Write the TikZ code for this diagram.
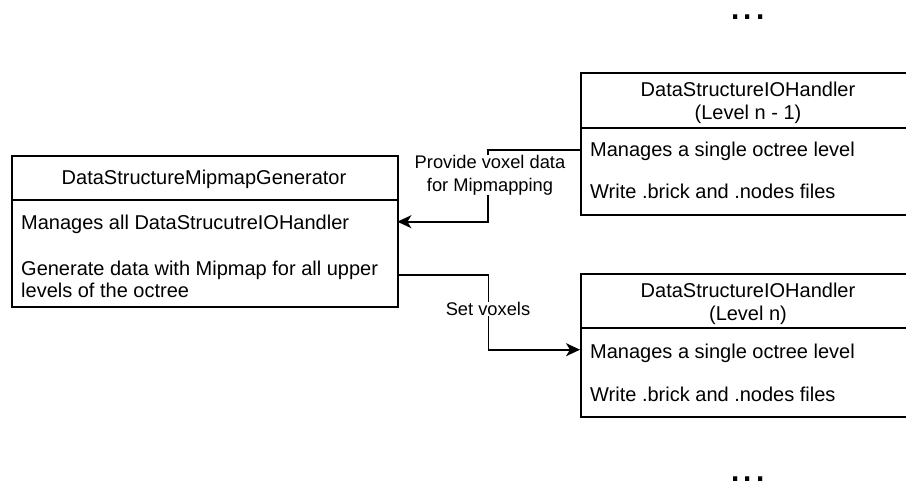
\documentclass[tikz,border=0pt]{standalone}
\usepackage{fontspec}
\setmainfont{Liberation Sans}
\usetikzlibrary{arrows.meta}
\begin{document}
\begin{tikzpicture}[x=1pt,y=-1pt,
 box/.style={draw, line width=1.6pt, rectangle, inner sep=0pt, anchor=north west},
 rowbox/.style={rectangle, inner sep=0pt, anchor=north west},
 divider/.style={line width=1.6pt},
 txt/.style={inner sep=0pt, anchor=base west, font=\fontsize{20}{23}\selectfont},
 head/.style={inner sep=0pt, anchor=base, font=\fontsize{20}{23}\selectfont},
 lbl/.style={inner sep=0pt, fill=white, align=center, font=\fontsize{18.3}{23}\selectfont},
 conn/.style={line width=1.6pt, -{Stealth[length=14pt,width=13pt,inset=4pt]}},
 dotstxt/.style={inner sep=0pt, anchor=base, font=\fontsize{44}{50}\selectfont}]

\useasboundingbox (0,0) rectangle (906,483);

% left box
\node[box, minimum width=386pt, minimum height=151pt] (gen) at (11,155) {};
\node[rowbox, minimum width=386pt, minimum height=43pt] (genA) at (11,200) {};
\node[rowbox, minimum width=386pt, minimum height=63pt] (genB) at (11,243) {};
\draw[divider] (genA.north west) -- (genA.north east);
\node[head] (genT) at (204,184.3) {DataStructureMipmapGenerator};
\node[txt] (genA1) at (21,229.3) {Manages all DataStrucutreIOHandler};
\node[txt] (genB1) at (21,275) {Generate data with Mipmap for all upper};
\node[txt] (genB2) at (21,297) {levels of the octree};

% top right box
\node[box, minimum width=336pt, minimum height=142pt] (io1) at (580,72) {};
\node[rowbox, minimum width=336pt, minimum height=43pt] (io1A) at (580,128) {};
\draw[divider] (io1A.north west) -- (io1A.north east);
\node[head] (io1T1) at (748,96) {DataStructureIOHandler};
\node[head] (io1T2) at (748,119) {(Level n - 1)};
\node[txt] (io1A1) at (590,156.7) {Manages a single octree level};
\node[txt] (io1B1) at (590,198.5) {Write .brick and .nodes files};

% bottom right box
\node[box, minimum width=336pt, minimum height=143pt] (io0) at (580,273) {};
\node[rowbox, minimum width=336pt, minimum height=43pt] (io0A) at (580,328) {};
\draw[divider] (io0A.north west) -- (io0A.north east);
\node[head] (io0T1) at (748,297) {DataStructureIOHandler};
\node[head] (io0T2) at (748,320) {(Level n)};
\node[txt] (io0A1) at (590,358) {Manages a single octree level};
\node[txt] (io0B1) at (590,401.5) {Write .brick and .nodes files};

% connectors
\draw[conn] (io1A.west) -- ++(-92,0) |- (genA.east);
\node[lbl] (l1) at (490,175) {Provide voxel data\\for Mipmapping};
\draw[conn] (genB.east) -- ++(91,0) |- (io0A.west);
\node[lbl] (l2) at (488,309) {Set voxels};

% ellipses
\node[dotstxt] (dTop) at (748,19.5) {...};
\node[dotstxt] (dBot) at (748,481) {...};
\end{tikzpicture}
\end{document}
